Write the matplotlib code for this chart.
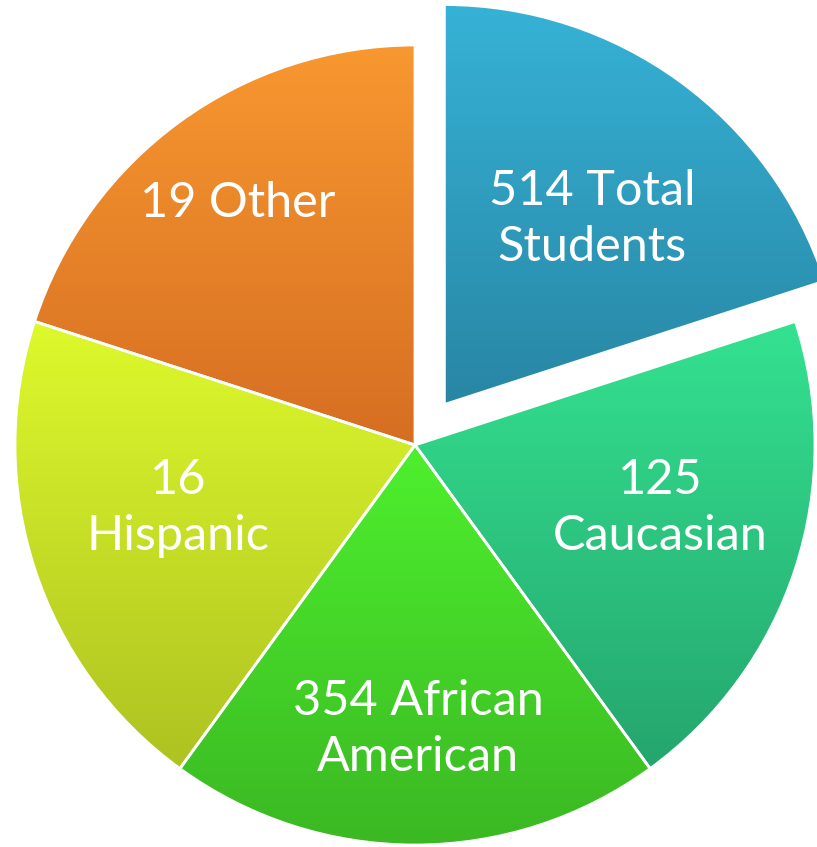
import matplotlib
matplotlib.use("Agg")
import matplotlib.pyplot as plt
import numpy as np
from matplotlib.colors import LinearSegmentedColormap

# slices go clockwise from 12 o'clock; all slices are drawn the same size
labels = ["514 Total\nStudents", "125\nCaucasian", "354 African\nAmerican",
          "16\nHispanic", "19 Other"]
shares = [1, 1, 1, 1, 1]
explode = [0.125, 0, 0, 0, 0]
top_colors = ["#36b2d6", "#34e290", "#4ef02e", "#def92c", "#f89830"]
bottom_colors = ["#2886a4", "#25a56e", "#3bb823", "#aec221", "#d66e22"]

# label centres in pixels (x from left, y from top)
label_px = [(592, 219), (660, 508), (418, 729), (178, 508), (238, 203)]

W, H = 817, 847
CX, CY, R = 415, 445, 400


def px(x, y):
    return (x - CX) / R, (CY - y) / R


fig = plt.figure(figsize=(W / 100, H / 100), dpi=100)
ax = fig.add_axes([0, 0, 1, 1])
wedges, _ = ax.pie(shares, explode=explode, startangle=90, counterclock=False,
                   colors=top_colors, radius=1.0,
                   wedgeprops=dict(edgecolor="white", linewidth=2))

grad = np.linspace(0, 1, 256).reshape(-1, 1)
for w, c0, c1 in zip(wedges, top_colors, bottom_colors):
    bb = w.get_path().get_extents(w.get_patch_transform())
    cmap = LinearSegmentedColormap.from_list("g", [c0, c1])
    im = ax.imshow(grad, cmap=cmap, aspect="auto", origin="upper",
                   extent=[bb.x0, bb.x1, bb.y0, bb.y1], zorder=2,
                   interpolation="bilinear")
    im.set_clip_path(w)
    w.set_facecolor("none")
    w.set_zorder(3)

for text, (x, y) in zip(labels, label_px):
    ax.text(*px(x, y), text, ha="center", va="center", color="white",
            fontsize=35, family="Lato", linespacing=1.32, zorder=4)

ax.set_xlim(-CX / R, (W - CX) / R)
ax.set_ylim(-(H - CY) / R, CY / R)
ax.set_aspect("equal")
ax.axis("off")
fig.savefig("out.png", dpi=100)
